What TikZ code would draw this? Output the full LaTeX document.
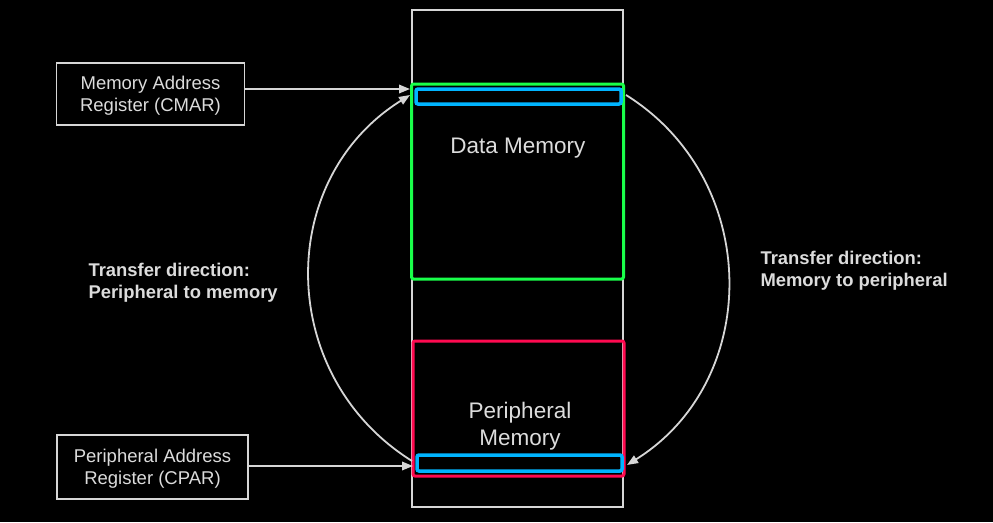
\documentclass[tikz,border=0pt]{standalone}
\usepackage{fontspec}
\setmainfont{Liberation Sans}
\usetikzlibrary{arrows.meta}
\definecolor{lgray}{HTML}{D6D6D6}
\definecolor{tgray}{HTML}{DCDCDC}
\definecolor{dmgreen}{HTML}{19FF4A}
\definecolor{pmred}{HTML}{FF0A50}
\definecolor{regcyan}{HTML}{00B4FF}
\tikzset{
  gline/.style={draw=lgray, line width=1.8pt},
  regbox/.style={draw=lgray, line width=1.8pt, rectangle, inner sep=0pt},
  boxtext/.style={text=tgray, align=center, font=\fontsize{18.5}{22}\selectfont},
  dirtext/.style={text=tgray, align=left, anchor=west, font=\bfseries\fontsize{18.4}{22}\selectfont},
  memtext/.style={text=tgray, align=center, font=\fontsize{22.5}{27}\selectfont},
  tip/.style={-{Triangle[length=11pt,width=8.5pt]}},
}
\begin{document}
\begin{tikzpicture}[x=1pt,y=-1pt]
\path[fill=black,use as bounding box] (0,0) rectangle (993,522);
% memory column
\draw[gline] (412,10) rectangle (623,507);
\node[draw=dmgreen, line width=3pt, rounded corners=2pt, minimum width=212pt, minimum height=195pt, inner sep=0pt] (dm) at (517.5,181.5) {};
\node[draw=pmred, line width=3pt, rounded corners=2pt, minimum width=211pt, minimum height=135pt, inner sep=0pt] (pm) at (518.5,408.5) {};
\node[draw=regcyan, line width=3.5pt, rounded corners=2pt, minimum width=205pt, minimum height=15pt, inner sep=0pt] (rtop) at (518.5,96.5) {};
\node[draw=regcyan, line width=3.5pt, rounded corners=2pt, minimum width=205pt, minimum height=16pt, inner sep=0pt] (rbot) at (519.5,463) {};
\node[memtext] (dmt) at (518,148) {Data Memory};
\node[memtext] (pmt) at (520,426) {Peripheral\\Memory};
% registers
\node[regbox, minimum width=188pt, minimum height=62pt] (cmar) at (150.5,94) {};
\node[boxtext] at ([yshift=-2pt]cmar.center) {Memory Address\\Register (CMAR)};
\node[regbox, minimum width=191pt, minimum height=64pt] (cpar) at (152.5,467) {};
\node[boxtext] at ([yshift=-1.5pt]cpar.center) {Peripheral Address\\Register (CPAR)};
% arrow end points
\coordinate (t1) at (410,89);
\coordinate (t2) at (410,95);
\coordinate (b1) at (413,466);
\coordinate (b2) at (412,461);
\coordinate (rs) at (626,95);
\coordinate (re) at (627,465);
\draw[gline,tip] (cmar.east |- t1) -- (t1);
\draw[gline,tip] (cpar.east |- b1) -- (b1);
\draw[gline,tip] (b2) .. controls +(-135.7,-84.8) and +(-135.7,84.8) .. (t2);
\draw[gline,tip] (rs) .. controls +(135.7,84.8) and +(135.7,-84.8) .. (re);
% direction labels
\node[dirtext] (ld) at (85,283) {Transfer direction:\\Peripheral to memory};
\node[dirtext] (rd) at (757,271) {Transfer direction:\\Memory to peripheral};
\end{tikzpicture}
\end{document}
